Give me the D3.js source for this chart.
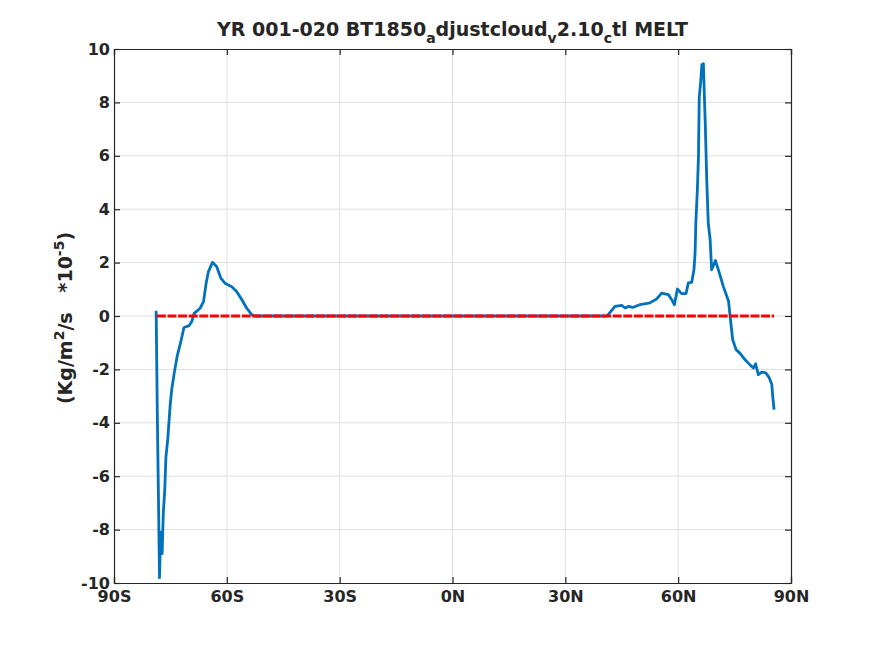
<!DOCTYPE html>
<html>
<head>
<meta charset="utf-8">
<script src="https://cdn.jsdelivr.net/npm/d3@7"></script>
<style>
  body { margin: 0; background: #fff; }
  svg text { font-family: "DejaVu Sans", sans-serif; font-weight: bold; fill: #262626; }
</style>
</head>
<body>
<div id="chart"></div>
<script>
// latitude (deg) and melt rate (*1e-5 Kg/m2/s)
const lats = [-78.8, -78.75, -78.5, -78.2, -77.9, -77.6, -77.2, -76.9, -76.5, -76.2, -75.7, -75.1, -74.7,
  -74.0, -73.2, -72.3, -71.4, -70.0, -69.3, -68.7, -67.1, -66.2, -65.5, -64.9, -63.8, -62.7, -61.6,
  -60.5, -58.7, -57.4, -56.0, -54.7, -53.4, -52.5,
  41.0, 41.4, 43.2, 45.0, 45.9, 46.8, 47.9, 49.9, 52.5, 54.3, 55.6, 57.4, 58.3, 59.0, 59.8, 60.9,
  62.1, 62.7, 63.6, 64.2, 64.5, 64.7, 65.1, 65.4, 65.6, 66.0, 66.3, 66.7, 66.9, 67.2, 67.6, 68.0,
  68.5, 68.9, 69.4, 69.9, 70.7, 72.0, 73.4, 73.8, 74.5, 75.4, 76.4, 77.8, 79.1, 80.0, 80.6, 81.3,
  82.2, 83.3, 84.2, 84.9, 85.1, 85.5];
const melt = [0.2, -0.3, -3.5, -6.6, -9.8, -8.1, -8.9, -7.4, -6.5, -5.3, -4.6, -3.4, -2.8,
  -2.15, -1.5, -1.0, -0.43, -0.36, -0.2, 0.1, 0.29, 0.54, 1.23, 1.66, 2.01, 1.85, 1.42,
  1.23, 1.1, 0.92, 0.61, 0.29, 0.05, 0.0,
  0.0, 0.05, 0.36, 0.4, 0.3, 0.36, 0.32, 0.43, 0.49, 0.64, 0.86, 0.8, 0.61, 0.42, 1.01, 0.84,
  0.84, 1.24, 1.26, 1.73, 2.36, 3.48, 4.73, 5.98, 8.17, 8.79, 9.41, 9.45, 8.54, 7.23, 5.1, 3.48,
  2.86, 1.73, 1.9, 2.08, 1.73, 1.11, 0.55, 0.0, -0.89, -1.26, -1.39, -1.64, -1.83, -1.95, -1.79, -2.2,
  -2.1, -2.13, -2.31, -2.57, -2.95, -3.51];
// zero reference line extent
const zeroLats = [-78.6, 85.5];
const zeroVals = [0, 0];

const xTicks = [-90, -60, -30, 0, 30, 60, 90];
const xTickLabels = ["90S", "60S", "30S", "0N", "30N", "60N", "90N"];
const yTicks = [-10, -8, -6, -4, -2, 0, 2, 4, 6, 8, 10];

const W = 875, H = 656;
const margin = {top: 49, right: 84, bottom: 73, left: 114};
const width = W - margin.left - margin.right,
      height = H - margin.top - margin.bottom;

const svg = d3.select("#chart").append("svg")
  .attr("width", W).attr("height", H);

const g = svg.append("g")
  .attr("transform", "translate(" + margin.left + "," + margin.top + ")");

const x = d3.scaleLinear().domain([-90, 90]).range([0, width]);
const y = d3.scaleLinear().domain([-10, 10]).range([height, 0]);

// grid
g.append("g").selectAll("line").data(xTicks.slice(1, -1)).enter().append("line")
  .attr("x1", d => x(d)).attr("x2", d => x(d))
  .attr("y1", 0).attr("y2", height)
  .attr("stroke", "#dfdfdf").attr("stroke-width", 1);
g.append("g").selectAll("line").data(yTicks.slice(1, -1)).enter().append("line")
  .attr("y1", d => y(d)).attr("y2", d => y(d))
  .attr("x1", 0).attr("x2", width)
  .attr("stroke", "#dfdfdf").attr("stroke-width", 1);

// lines
const line = d3.line().x(d => x(d[0])).y(d => y(d[1]));
g.append("path")
  .datum(lats.map((d, i) => [d, melt[i]]))
  .attr("d", line)
  .attr("fill", "none").attr("stroke", "#0072BD").attr("stroke-width", 2.8)
  .attr("stroke-linejoin", "round");
g.append("path")
  .datum(zeroLats.map((d, i) => [d, zeroVals[i]]))
  .attr("d", line)
  .attr("fill", "none").attr("stroke", "#ff0000").attr("stroke-width", 2.8)
  .attr("stroke-dasharray", "9,1.6");

// axes (ticks inside, box)
const tickLen = 6;
const xAxis = g.append("g").attr("transform", "translate(0," + height + ")")
  .call(d3.axisBottom(x).tickValues(xTicks).tickSize(-tickLen).tickPadding(8)
    .tickFormat((d, i) => xTickLabels[i]));
const xAxisTop = g.append("g")
  .call(d3.axisTop(x).tickValues(xTicks).tickSize(-tickLen).tickFormat(""));
const yAxis = g.append("g")
  .call(d3.axisLeft(y).tickValues(yTicks).tickSize(-tickLen).tickPadding(4)
    .tickFormat(d => String(d)));
const yAxisRight = g.append("g").attr("transform", "translate(" + width + ",0)")
  .call(d3.axisRight(y).tickValues(yTicks).tickSize(-tickLen).tickFormat(""));

[xAxis, xAxisTop, yAxis, yAxisRight].forEach(a => {
  a.select(".domain").attr("stroke", "#262626").attr("stroke-width", 1.2);
  a.selectAll(".tick line").attr("stroke", "#262626").attr("stroke-width", 1.2);
  a.selectAll("text").attr("font-size", 16).attr("font-family", "DejaVu Sans")
    .attr("font-weight", "bold").attr("fill", "#262626");
});

// title
const title = svg.append("text")
  .attr("x", margin.left + width / 2).attr("y", 36)
  .attr("text-anchor", "middle").attr("font-size", 19);
title.append("tspan").text("YR 001-020 BT1850");
title.append("tspan").attr("dy", 7).attr("font-size", 14).text("a");
title.append("tspan").attr("dy", -7).text("djustcloud");
title.append("tspan").attr("dy", 7).attr("font-size", 14).text("v");
title.append("tspan").attr("dy", -7).text("2.10");
title.append("tspan").attr("dy", 7).attr("font-size", 14).text("c");
title.append("tspan").attr("dy", -7).text("tl MELT");

// y label
const ylab = svg.append("text")
  .attr("transform", "translate(72," + (margin.top + height / 2 + 2) + ") rotate(-90)")
  .attr("text-anchor", "middle").attr("font-size", 19);
ylab.append("tspan").text("(Kg/m");
ylab.append("tspan").attr("dy", -8).attr("font-size", 14).text("2");
ylab.append("tspan").attr("dy", 8).text("/s\u00a0\u00a0\u00a0*10");
ylab.append("tspan").attr("dy", -8).attr("font-size", 14).text("-5");
ylab.append("tspan").attr("dy", 8).text(")");
</script>
</body>
</html>
